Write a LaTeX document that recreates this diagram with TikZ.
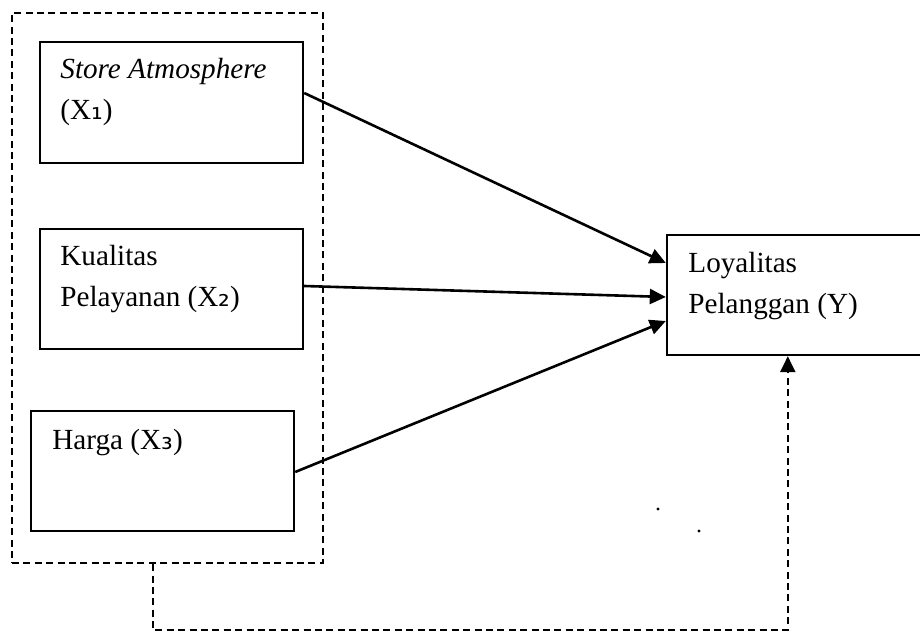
\documentclass[tikz,border=0pt]{standalone}
\usepackage{fontspec}
\setmainfont{Liberation Serif}
\newfontfamily\subdigits{DejaVu Sans}
\usetikzlibrary{arrows.meta,calc}

\newcommand{\subone}{{\subdigits ₁}}
\newcommand{\subtwo}{{\subdigits ₂}}
\newcommand{\subthree}{{\subdigits ₃}}

\tikzset{
  varbox/.style={draw, line width=1.2pt, rectangle, inner sep=0pt},
  grpbox/.style={draw, line width=1.1pt, dash pattern=on 3.5pt off 2.2pt, rectangle, inner sep=0pt},
  lbl/.style={anchor=base west, inner sep=0pt,
    font=\fontsize{14.6}{20.5}\selectfont},
  link/.style={line width=1.3pt, -{Triangle[length=8pt,width=7.5pt]}},
  feedback/.style={line width=1.1pt, dash pattern=on 3.5pt off 2.2pt,
    -{Triangle[length=8pt,width=7.5pt]}},
}

\begin{document}
\begin{tikzpicture}[x=0.5pt,y=-0.5pt]
  \useasboundingbox (0,0) rectangle (920,635);
  \clip (0,0) rectangle (920,635);

  % group of independent variables
  \node[grpbox, minimum width=155.5pt, minimum height=275pt] (grp) at (167.5,288) {};

  % variable boxes
  \node[varbox, minimum width=131.5pt, minimum height=60.5pt] (b1) at (171.5,102.5) {};
  \node[varbox, minimum width=131.5pt, minimum height=60pt] (b2) at (171.5,289) {};
  \node[varbox, minimum width=131.5pt, minimum height=60pt] (b3) at (162.5,471) {};
  \node[varbox, minimum width=134pt, minimum height=60pt] (by) at (801,295) {};

  % labels
  \node[lbl] (t1) at (60,79) {\begin{tabular}[t]{@{}l@{}}\textit{Store Atmosphere}\\(X\subone)\end{tabular}};
  \node[lbl] (t2) at (60,266) {\begin{tabular}[t]{@{}l@{}}Kualitas\\Pelayanan (X\subtwo)\end{tabular}};
  \node[lbl] (t3) at (52,450) {Harga (X\subthree)};
  \node[lbl] (ty) at (688,273) {\begin{tabular}[t]{@{}l@{}}Loyalitas\\Pelanggan (Y)\end{tabular}};

  % direct effects
  \draw[link] ($(b1.east)+(0,-9.5)$) -- ($(by.west)+(0,-32)$);
  \draw[link] ($(b2.east)+(0,-3)$) -- ($(by.west)+(0,2)$);
  \draw[link] ($(b3.east)+(0,1)$) -- ($(by.west)+(0,26)$);

  % simultaneous effect
  \draw[feedback] ($(grp.south west)+(142,0)$) -- ++(0,66) -| ($(by.south west)+(122,0)$);

  % stray dots
  \fill (658,509) circle (0.8pt);
  \fill (699,531) circle (0.8pt);
\end{tikzpicture}
\end{document}
